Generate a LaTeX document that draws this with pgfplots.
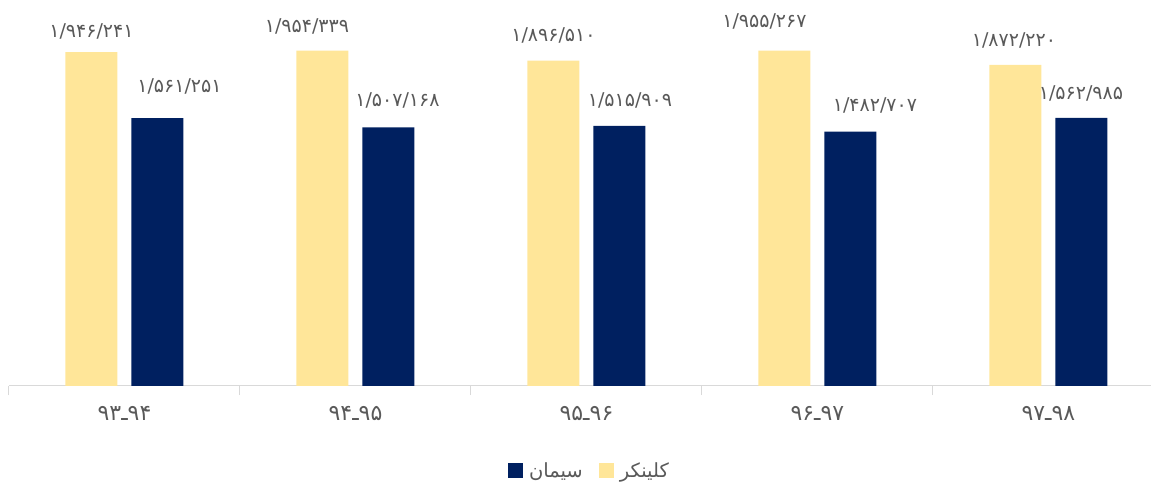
\documentclass[border=0pt]{standalone}
\usepackage{pgfplots}
\usepackage{pgfplotstable}
\pgfplotsset{compat=1.18}
\usepackage{fontspec}
\setmainfont{DejaVu Sans}
\newfontfamily\arabicfont[Script=Arabic]{DejaVu Sans}
\TeXXeTstate=1
\definecolor{clinker}{HTML}{FFE699}
\definecolor{cement}{HTML}{002060}
\definecolor{txtgray}{HTML}{595959}
\definecolor{axgray}{HTML}{D9D9D9}

\pgfplotstableread{
x y dx dy lab
0 1946241 -33   15 ۱/۹۴۶/۲۴۱
1 1954339 -48.5 18 ۱/۹۵۴/۳۳۹
2 1896510 -33   19 ۱/۸۹۶/۵۱۰
3 1955267 -53   23 ۱/۹۵۵/۲۶۷
4 1872220 -34.5 18 ۱/۸۷۲/۲۲۰
}\clinkerdata

\pgfplotstableread{
x y dx dy lab
0 1561251 55   26 ۱/۵۶۱/۲۵۱
1 1507168 42   21 ۱/۵۰۷/۱۶۸
2 1515909 43.5 19 ۱/۵۱۵/۹۰۹
3 1482707 57.5 20 ۱/۴۸۲/۷۰۷
4 1562985 32.5 18 ۱/۵۶۲/۹۸۵
}\cementdata

\begin{document}
\begin{tikzpicture}
\begin{axis}[
  at={(9pt,101pt)}, anchor=south west,
  scale only axis, width=1155pt, height=386pt,
  xmin=-0.5, xmax=4.5, ymin=0, ymax=2250000,
  axis x line*=bottom, axis y line=none,
  x axis line style={draw=axgray, line width=1pt},
  xtick={0,1,2,3,4},
  xticklabels={\arabicfont\beginR ۹۴ـ۹۳\endR, \arabicfont\beginR ۹۵ـ۹۴\endR, \arabicfont\beginR ۹۶ـ۹۵\endR, \arabicfont\beginR ۹۷ـ۹۶\endR, \arabicfont\beginR ۹۸ـ۹۷\endR},
  major tick length=0pt,
  minor xtick={-0.5,0.5,1.5,2.5,3.5,4.5},
  minor tick length=9pt,
  xtick align=outside,
  minor tick style={draw=axgray, line width=1pt},
  xticklabel style={anchor=base, yshift=-35pt, font=\fontsize{22}{25}\selectfont, text=txtgray},
  legend columns=2,
  legend style={at={(0.5026,-0.22)}, anchor=center, draw=none, fill=none,
    font=\fontsize{19.5}{22}\selectfont, text=txtgray,
    /tikz/every odd column/.append style={column sep=4pt},
    /tikz/every even column/.append style={column sep=14pt}},
  legend image code/.code={\fill[draw=none,#1] (0pt,-7.5pt) rectangle (15pt,7.5pt);},
  clip=false,
]
\addplot[ybar, bar width=52pt, bar shift=-33pt, fill=clinker, draw=none, forget plot]
  table[x=x, y=y] {\clinkerdata};
\addplot[ybar, bar width=52pt, bar shift=33pt, fill=cement, draw=none, forget plot]
  table[x=x, y=y] {\cementdata};
\addplot[only marks, mark=none, forget plot,
  point meta=explicit symbolic,
  visualization depends on={\thisrow{dx}\as\dx},
  visualization depends on={\thisrow{dy}\as\dy},
  nodes near coords,
  nodes near coords style={anchor=base, xshift=\dx pt, yshift=\dy pt, inner sep=0pt,
    font=\arabicfont\fontsize{19}{22}\selectfont, text=txtgray}]
  table[x=x, y=y, meta=lab] {\clinkerdata};
\addplot[only marks, mark=none, forget plot,
  point meta=explicit symbolic,
  visualization depends on={\thisrow{dx}\as\dx},
  visualization depends on={\thisrow{dy}\as\dy},
  nodes near coords,
  nodes near coords style={anchor=base, xshift=\dx pt, yshift=\dy pt, inner sep=0pt,
    font=\arabicfont\fontsize{19}{22}\selectfont, text=txtgray}]
  table[x=x, y=y, meta=lab] {\cementdata};
\addlegendimage{fill=cement, draw=none}
\addlegendentry{\arabicfont\beginR سیمان\endR}
\addlegendimage{fill=clinker, draw=none}
\addlegendentry{\arabicfont\beginR کلینکر\endR}
\end{axis}
\pgfresetboundingbox
\path[use as bounding box] (0,0) rectangle (1151pt,487pt);
\end{tikzpicture}
\end{document}
